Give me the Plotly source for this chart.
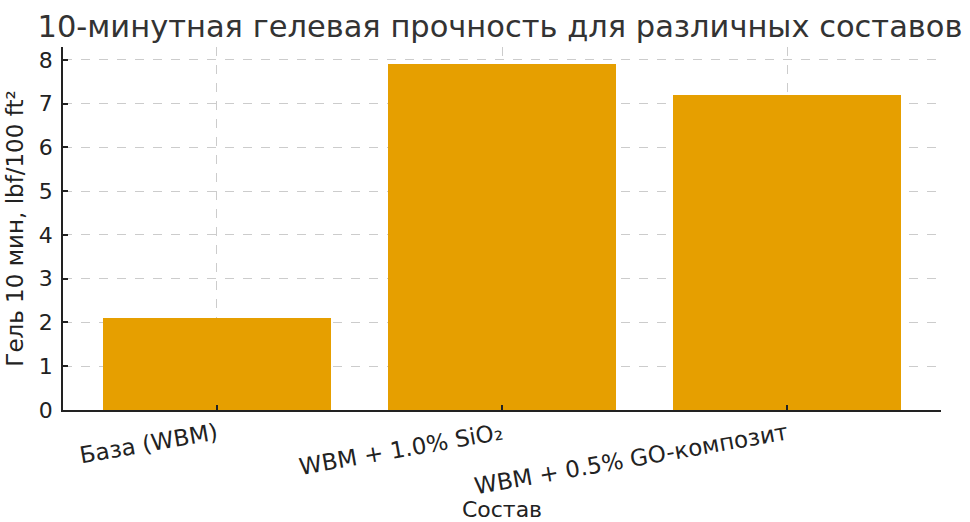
import plotly.graph_objects as go

# Gel strength (10 min) for each drilling fluid formulation
categories = ["База (WBM)", "WBM + 1.0% SiO₂", "WBM + 0.5% GO-композит"]
gel_10min = [2.1, 7.9, 7.2]
y_ticks = [0, 1, 2, 3, 4, 5, 6, 7, 8]

FONT = "DejaVu Sans"
TEXT = "#333333"
AXIS = "#222222"

fig = go.Figure(
    go.Bar(
        x=list(range(len(categories))),
        y=gel_10min,
        width=0.8,
        marker=dict(color="#E69F00", line=dict(width=0)),
    )
)

fig.update_layout(
    width=970,
    height=522,
    margin=dict(l=63, r=29, t=47, b=112),
    plot_bgcolor="white",
    paper_bgcolor="white",
    font=dict(family=FONT, color=TEXT, size=22),
    showlegend=False,
    title=dict(
        text="10-минутная гелевая прочность для различных составов",
        font=dict(family=FONT, size=30.5, color=TEXT),
        x=500 / 970,
        xref="container",
        xanchor="center",
        yref="container",
        y=1 - 26 / 522,
        yanchor="middle",
        automargin=False,
    ),
    bargap=0,
)

fig.update_xaxes(
    range=[-0.54, 2.54],
    tickmode="array",
    tickvals=list(range(len(categories))),
    ticktext=categories,
    tickangle=-10,
    tickfont=dict(size=23, color=AXIS),
    ticks="inside",
    ticklen=5,
    tickwidth=1.5,
    tickcolor=AXIS,
    showline=True,
    linecolor=AXIS,
    linewidth=1.5,
    showgrid=True,
    gridcolor="#cccccc",
    griddash="dash",
    gridwidth=1,
    zeroline=False,
    automargin=False,
    title=dict(text="Состав", font=dict(size=22, color=AXIS), standoff=12),
)

fig.update_yaxes(
    range=[0, 8.295],
    tickmode="array",
    tickvals=y_ticks,
    tickfont=dict(size=22, color=AXIS),
    ticks="inside",
    ticklen=5,
    tickwidth=1.5,
    tickcolor=AXIS,
    showline=True,
    linecolor=AXIS,
    linewidth=1.5,
    showgrid=True,
    gridcolor="#cccccc",
    griddash="dash",
    gridwidth=1,
    zeroline=False,
    automargin=False,
    ticklabelstandoff=4,
    title=dict(text="Гель 10 мин, lbf/100 ft²", font=dict(size=23, color=AXIS), standoff=9),
)

fig.write_html("out.html")
